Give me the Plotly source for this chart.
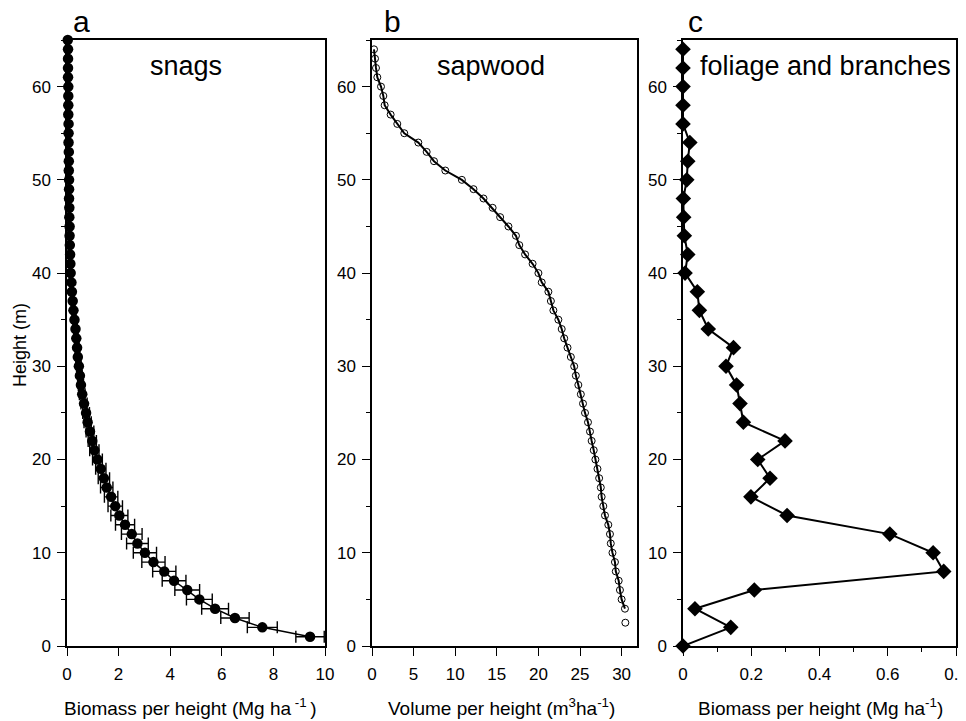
import plotly.graph_objects as go

# ---------------- data ----------------
# Panel a: snags biomass per height (Mg ha-1) vs height (m)
snag_h = list(range(1, 66))
snag_x = [9.42, 7.57, 6.51, 5.74, 5.13, 4.66, 4.15, 3.77, 3.35, 3.02,
          2.73, 2.51, 2.25, 2.03, 1.87, 1.71, 1.54, 1.43, 1.31, 1.18,
          1.06, 0.98, 0.89, 0.80, 0.74, 0.66, 0.59, 0.54, 0.50, 0.46,
          0.42, 0.39, 0.36, 0.33, 0.29, 0.25, 0.22, 0.19, 0.17, 0.14,
          0.13, 0.12, 0.11, 0.10, 0.10, 0.09, 0.09, 0.08, 0.08, 0.08,
          0.07, 0.07, 0.07, 0.06, 0.06, 0.06, 0.05, 0.05, 0.05, 0.05,
          0.04, 0.04, 0.04, 0.04, 0.03]
snag_err = [0.55, 0.58, 0.55, 0.52, 0.50, 0.48, 0.46, 0.45, 0.45, 0.45,
            0.42, 0.40, 0.37, 0.33, 0.28, 0.26, 0.24, 0.22, 0.20, 0.19,
            0.18, 0.16, 0.15, 0.14, 0.13, 0.12, 0.11, 0.10, 0.09, 0.09,
            0.08, 0.08, 0.07, 0.07, 0.06, 0.06, 0.05, 0.05, 0.05, 0.04,
            0.04, 0.04, 0.04, 0.03, 0.03, 0.03, 0.03, 0.03, 0.03, 0.03,
            0.02, 0.02, 0.02, 0.02, 0.02, 0.02, 0.02, 0.02, 0.02, 0.02,
            0.02, 0.02, 0.02, 0.02, 0.02]

# Panel b: sapwood volume per height (m3 ha-1) vs height (m)
sap_h = list(range(4, 65))
sap_x = [30.4, 30.0, 29.8, 29.65, 29.3, 29.2, 28.9, 28.7, 28.6, 28.4,
         28.0, 27.8, 27.6, 27.5, 27.3, 27.1, 26.85, 26.65, 26.4, 26.2,
         25.96, 25.6, 25.36, 25.1, 24.8, 24.5, 24.3, 23.9, 23.5, 23.1,
         22.8, 22.4, 21.8, 21.5, 21.2, 20.4, 20.0, 19.3, 18.4, 17.7,
         17.3, 16.4, 15.4, 14.5, 13.4, 12.2, 10.8, 8.81, 7.45, 6.57,
         5.57, 3.88, 3.04, 2.24, 1.52, 1.36, 1.08, 0.64, 0.48, 0.36,
         0.24]
sap_extra_h = [2.5]
sap_extra_x = [30.45]

# Panel c: foliage and branches biomass per height (Mg ha-1) vs height (m)
fol_h = list(range(0, 65, 2))
fol_x = [0.0, 0.14, 0.035, 0.209, 0.764, 0.733, 0.606, 0.305, 0.199, 0.255,
         0.219, 0.299, 0.177, 0.167, 0.157, 0.126, 0.148, 0.074, 0.048, 0.042,
         0.006, 0.014, 0.004, 0.002, 0.001, 0.011, 0.014, 0.02, 0.0, 0.0,
         0.0, 0.0, 0.0]

panel_letters = ["a", "b", "c"]
panel_titles = ["snags", "sapwood", "foliage and branches"]
x_titles = ["Biomass per height (Mg ha<sup> -1 </sup>)",
            "Volume per height (m<sup>3</sup>ha<sup>-1</sup>)",
            "Biomass per height (Mg ha<sup>-1</sup>)"]
y_title = "Height (m)"

# ---------------- figure ----------------
W, H = 966, 721
OFF = 8  # default page body margin
FONT = "Liberation Sans, Arial, Helvetica, sans-serif"

def px_x(p):
    return (p - OFF) / W

def px_y(p):
    return 1 - (p - OFF) / H

fig = go.Figure()

fig.add_trace(go.Scatter(
    x=snag_x, y=snag_h, mode="lines+markers",
    line=dict(color="black", width=1.5),
    marker=dict(symbol="circle", size=10.5, color="black"),
    error_x=dict(type="data", array=snag_err, visible=True,
                 color="black", thickness=1.4, width=6),
    cliponaxis=False, xaxis="x", yaxis="y", showlegend=False))

fig.add_trace(go.Scatter(
    x=sap_x, y=sap_h, mode="lines+markers",
    line=dict(color="black", width=2),
    marker=dict(symbol="circle-open", size=7, color="black",
                line=dict(width=1, color="black")),
    cliponaxis=False, xaxis="x2", yaxis="y2", showlegend=False))
fig.add_trace(go.Scatter(
    x=sap_extra_x, y=sap_extra_h, mode="markers",
    marker=dict(symbol="circle-open", size=7, color="black",
                line=dict(width=1, color="black")),
    cliponaxis=False, xaxis="x2", yaxis="y2", showlegend=False))

fig.add_trace(go.Scatter(
    x=fol_x, y=fol_h, mode="lines+markers",
    line=dict(color="black", width=2),
    marker=dict(symbol="diamond", size=12, color="black"),
    cliponaxis=False, xaxis="x3", yaxis="y3", showlegend=False))

ydom = [px_y(646), px_y(40)]
xdoms = [[px_x(67), px_x(325)], [px_x(372), px_x(637)], [px_x(683), px_x(956)]]
xranges = [[0, 10], [0, 31.85], [0, 0.8]]
xdticks = [2, 5, 0.2]
xminor = [None, None, 0.1]

axis_common = dict(
    showline=True, linecolor="black", linewidth=1.5, mirror=True,
    ticks="outside", ticklen=8, tickwidth=1.2, tickcolor="black",
    showgrid=False, zeroline=False, automargin=False,
    tickfont=dict(family=FONT, size=17, color="black"),
)

layout = dict(
    width=W, height=H,
    margin=dict(l=0, r=0, t=0, b=0, autoexpand=False),
    paper_bgcolor="white", plot_bgcolor="white",
    font=dict(family=FONT, color="black"),
)

for i in range(3):
    sfx = "" if i == 0 else str(i + 1)
    xa = dict(axis_common)
    xa.update(domain=xdoms[i], range=xranges[i], dtick=xdticks[i], tick0=0,
              anchor="y" + sfx, ticklabelstandoff=4)
    if xminor[i]:
        xa["minor"] = dict(dtick=xminor[i], ticks="outside", ticklen=4,
                           tickcolor="black", tickwidth=1)
    if i == 2:
        xa["tickvals"] = [0, 0.2, 0.4, 0.6, 0.8]
        xa["ticktext"] = ["0", "0.2", "0.4", "0.6", "0.8"]
    ya = dict(axis_common)
    ya.update(domain=ydom, range=[0, 65], dtick=10, tick0=0,
              anchor="x" + sfx, ticklabelstandoff=3,
              minor=dict(dtick=5, ticks="outside", ticklen=4,
                         tickcolor="black", tickwidth=1))
    layout["xaxis" + sfx] = xa
    layout["yaxis" + sfx] = ya

fig.update_layout(**layout)

letter_x = [72, 383, 687]
title_x = [186, 491, 698]
title_anchor = ["center", "center", "left"]
xtitle_x = [190, 501, 820]

for i in range(3):
    fig.add_annotation(text=panel_letters[i], xref="paper", yref="paper",
                       x=px_x(letter_x[i]), y=px_y(22), xanchor="left",
                       yanchor="middle", showarrow=False, borderpad=0,
                       font=dict(family=FONT, size=30, color="black"))
    fig.add_annotation(text=panel_titles[i], xref="paper", yref="paper",
                       x=px_x(title_x[i]), y=px_y(66), xanchor=title_anchor[i],
                       yanchor="middle", showarrow=False,
                       font=dict(family=FONT, size=27, color="black"))
    fig.add_annotation(text=x_titles[i], xref="paper", yref="paper",
                       x=px_x(xtitle_x[i]), y=px_y(707), xanchor="center",
                       yanchor="middle", showarrow=False,
                       font=dict(family=FONT, size=19, color="black"))

fig.add_annotation(text=y_title, xref="paper", yref="paper",
                   x=px_x(20), y=px_y(345), xanchor="center", yanchor="middle",
                   textangle=-90, showarrow=False,
                   font=dict(family=FONT, size=18, color="black"))

fig.write_html("out.html")
